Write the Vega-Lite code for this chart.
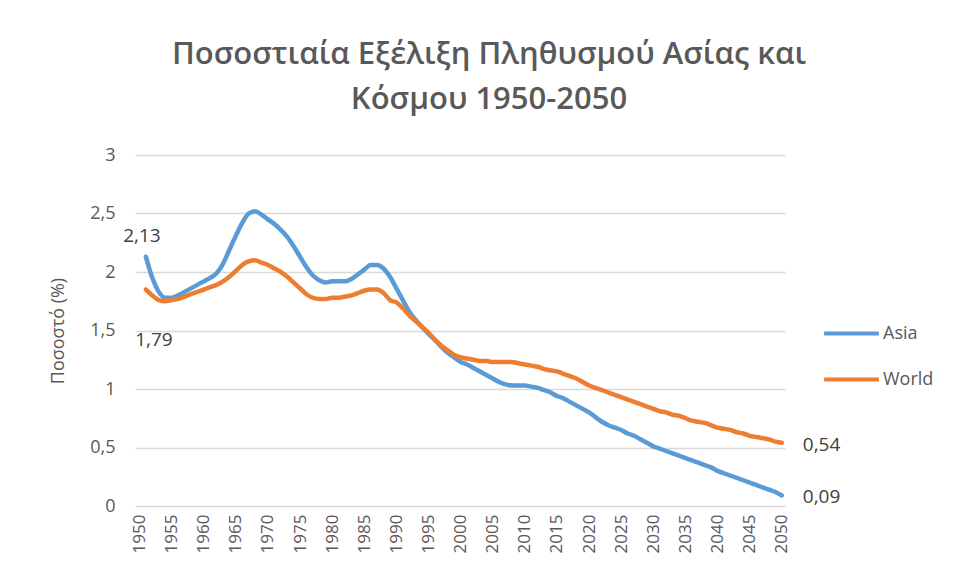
{
  "$schema": "https://vega.github.io/schema/vega-lite/v6.json",
  "width": 650,
  "height": 351,
  "autosize": {"type": "none"},
  "padding": {"left": 135, "top": 155, "right": 173, "bottom": 72},
  "background": "white",
  "title": {
    "text": ["Ποσοστιαία Εξέλιξη Πληθυσμού Ασίας και", "Κόσμου 1950-2050"],
    "anchor": "middle",
    "frame": "group",
    "dx": 29,
    "offset": 30,
    "fontSize": 31,
    "font": "Open Sans",
    "fontWeight": 600,
    "color": "#595959",
    "lineHeight": 45
  },
  "config": {"view": {"stroke": null}, "font": "Open Sans"},
  "datasets": {
    "series": [
      {"year":1951,"Asia":2.13,"World":1.85},{"year":1952,"Asia":1.95,"World":1.80},{"year":1953,"Asia":1.83,"World":1.76},{"year":1954,"Asia":1.78,"World":1.75},{"year":1955,"Asia":1.78,"World":1.76},
      {"year":1956,"Asia":1.80,"World":1.77},{"year":1957,"Asia":1.83,"World":1.79},{"year":1958,"Asia":1.86,"World":1.81},{"year":1959,"Asia":1.89,"World":1.83},{"year":1960,"Asia":1.92,"World":1.85},
      {"year":1961,"Asia":1.95,"World":1.87},{"year":1962,"Asia":1.99,"World":1.89},{"year":1963,"Asia":2.07,"World":1.92},{"year":1964,"Asia":2.19,"World":1.96},{"year":1965,"Asia":2.31,"World":2.01},
      {"year":1966,"Asia":2.42,"World":2.06},{"year":1967,"Asia":2.50,"World":2.09},{"year":1968,"Asia":2.52,"World":2.10},{"year":1969,"Asia":2.49,"World":2.08},{"year":1970,"Asia":2.45,"World":2.06},
      {"year":1971,"Asia":2.41,"World":2.03},{"year":1972,"Asia":2.36,"World":2.00},{"year":1973,"Asia":2.30,"World":1.96},{"year":1974,"Asia":2.22,"World":1.91},{"year":1975,"Asia":2.13,"World":1.86},
      {"year":1976,"Asia":2.04,"World":1.81},{"year":1977,"Asia":1.97,"World":1.78},{"year":1978,"Asia":1.93,"World":1.77},{"year":1979,"Asia":1.91,"World":1.77},{"year":1980,"Asia":1.92,"World":1.78},
      {"year":1981,"Asia":1.92,"World":1.78},{"year":1982,"Asia":1.92,"World":1.79},{"year":1983,"Asia":1.94,"World":1.80},{"year":1984,"Asia":1.98,"World":1.82},{"year":1985,"Asia":2.02,"World":1.84},
      {"year":1986,"Asia":2.06,"World":1.85},{"year":1987,"Asia":2.06,"World":1.85},{"year":1988,"Asia":2.03,"World":1.82},{"year":1989,"Asia":1.96,"World":1.76},{"year":1990,"Asia":1.86,"World":1.74},
      {"year":1991,"Asia":1.76,"World":1.69},{"year":1992,"Asia":1.66,"World":1.63},{"year":1993,"Asia":1.59,"World":1.58},{"year":1994,"Asia":1.53,"World":1.53},{"year":1995,"Asia":1.47,"World":1.48},
      {"year":1996,"Asia":1.42,"World":1.42},{"year":1997,"Asia":1.36,"World":1.37},{"year":1998,"Asia":1.31,"World":1.33},{"year":1999,"Asia":1.27,"World":1.29},{"year":2000,"Asia":1.23,"World":1.27},
      {"year":2001,"Asia":1.21,"World":1.26},{"year":2002,"Asia":1.18,"World":1.25},{"year":2003,"Asia":1.15,"World":1.24},{"year":2004,"Asia":1.12,"World":1.24},{"year":2005,"Asia":1.09,"World":1.23},
      {"year":2006,"Asia":1.06,"World":1.23},{"year":2007,"Asia":1.04,"World":1.23},{"year":2008,"Asia":1.03,"World":1.23},{"year":2009,"Asia":1.03,"World":1.22},{"year":2010,"Asia":1.03,"World":1.21},
      {"year":2011,"Asia":1.02,"World":1.20},{"year":2012,"Asia":1.01,"World":1.19},{"year":2013,"Asia":0.99,"World":1.17},{"year":2014,"Asia":0.97,"World":1.16},{"year":2015,"Asia":0.94,"World":1.15},
      {"year":2016,"Asia":0.92,"World":1.13},{"year":2017,"Asia":0.89,"World":1.11},{"year":2018,"Asia":0.86,"World":1.09},{"year":2019,"Asia":0.83,"World":1.06},{"year":2020,"Asia":0.80,"World":1.03},
      {"year":2021,"Asia":0.76,"World":1.01},{"year":2022,"Asia":0.72,"World":0.99},{"year":2023,"Asia":0.69,"World":0.97},{"year":2024,"Asia":0.67,"World":0.95},{"year":2025,"Asia":0.65,"World":0.93},
      {"year":2026,"Asia":0.62,"World":0.91},{"year":2027,"Asia":0.60,"World":0.89},{"year":2028,"Asia":0.57,"World":0.87},{"year":2029,"Asia":0.54,"World":0.85},{"year":2030,"Asia":0.51,"World":0.83},
      {"year":2031,"Asia":0.49,"World":0.81},{"year":2032,"Asia":0.47,"World":0.80},{"year":2033,"Asia":0.45,"World":0.78},{"year":2034,"Asia":0.43,"World":0.77},{"year":2035,"Asia":0.41,"World":0.75},
      {"year":2036,"Asia":0.39,"World":0.73},{"year":2037,"Asia":0.37,"World":0.72},{"year":2038,"Asia":0.35,"World":0.71},{"year":2039,"Asia":0.33,"World":0.69},{"year":2040,"Asia":0.30,"World":0.67},
      {"year":2041,"Asia":0.28,"World":0.66},{"year":2042,"Asia":0.26,"World":0.65},{"year":2043,"Asia":0.24,"World":0.63},{"year":2044,"Asia":0.22,"World":0.62},{"year":2045,"Asia":0.20,"World":0.60},
      {"year":2046,"Asia":0.18,"World":0.59},{"year":2047,"Asia":0.16,"World":0.58},{"year":2048,"Asia":0.14,"World":0.57},{"year":2049,"Asia":0.12,"World":0.55},{"year":2050,"Asia":0.09,"World":0.54}
    ],
    "labels": [
      {"year": 1951, "value": 2.13, "label": "2,13", "pos": "startTop"},
      {"year": 1951, "value": 1.79, "label": "1,79", "pos": "startBottom"},
      {"year": 2050, "value": 0.54, "label": "0,54", "pos": "end"},
      {"year": 2050, "value": 0.09, "label": "0,09", "pos": "end"}
    ]
  },
  "encoding": {
    "x": {
      "field": "year", "type": "quantitative",
      "scale": {"domain": [1949.3, 2050.5], "nice": false, "zero": false},
      "axis": {
        "values": [1950,1955,1960,1965,1970,1975,1980,1985,1990,1995,2000,2005,2010,2015,2020,2025,2030,2035,2040,2045,2050],
        "format": "d", "labelAngle": -90, "grid": false, "ticks": false, "domain": false,
        "labelFontSize": 17, "labelColor": "#595959", "labelPadding": 8, "title": null,
        "labelFont": "Open Sans", "labelOverlap": false, "labelSeparation": 0
      }
    },
    "y": {
      "field": "value", "type": "quantitative",
      "scale": {"domain": [0, 3], "nice": false},
      "axis": {
        "values": [0, 0.5, 1, 1.5, 2, 2.5, 3],
        "format": "~g",
        "labelExpr": "replace(datum.label, '.', ',')",
        "grid": true, "gridColor": "#d9d9d9", "gridWidth": 1.3,
        "ticks": false, "domain": false,
        "labelFontSize": 18, "labelColor": "#595959", "labelPadding": 20,
        "title": "Ποσοστό (%)", "titleFontSize": 18, "titleFontWeight": "normal",
        "titleColor": "#595959", "titlePadding": 22, "titleFont": "Open Sans"
      }
    }
  },
  "layer": [
    {
      "data": {"name": "series"},
      "transform": [{"fold": ["Asia", "World"], "as": ["series", "value"]}],
      "mark": {"type": "line", "strokeWidth": 4.5, "interpolate": "monotone", "strokeCap": "round"},
      "encoding": {
        "color": {
          "field": "series", "type": "nominal",
          "scale": {"domain": ["Asia", "World"], "range": ["#5B9BD5", "#ED7D31"]},
          "legend": {
            "title": null, "orient": "none", "legendX": 687, "legendY": 149,
            "symbolType": "stroke", "symbolStrokeWidth": 4, "symbolSize": 3000,
            "labelFontSize": 18, "labelColor": "#595959", "labelOffset": 2,
            "rowPadding": 7, "labelFont": "Open Sans"
          }
        }
      }
    },
    {
      "data": {"name": "labels"},
      "transform": [{"filter": "datum.pos === 'startTop'"}],
      "mark": {"type": "text", "fontSize": 19, "color": "#404040", "dx": -4, "dy": -21, "font": "Open Sans"},
      "encoding": {"text": {"field": "label"}}
    },
    {
      "data": {"name": "labels"},
      "transform": [{"filter": "datum.pos === 'startBottom'"}],
      "mark": {"type": "text", "fontSize": 19, "color": "#404040", "dx": 8, "dy": 43, "font": "Open Sans"},
      "encoding": {"text": {"field": "label"}}
    },
    {
      "data": {"name": "labels"},
      "transform": [{"filter": "datum.pos === 'end'"}],
      "mark": {"type": "text", "fontSize": 19, "color": "#404040", "dx": 21, "dy": 2, "align": "left", "font": "Open Sans"},
      "encoding": {"text": {"field": "label"}}
    }
  ]
}
